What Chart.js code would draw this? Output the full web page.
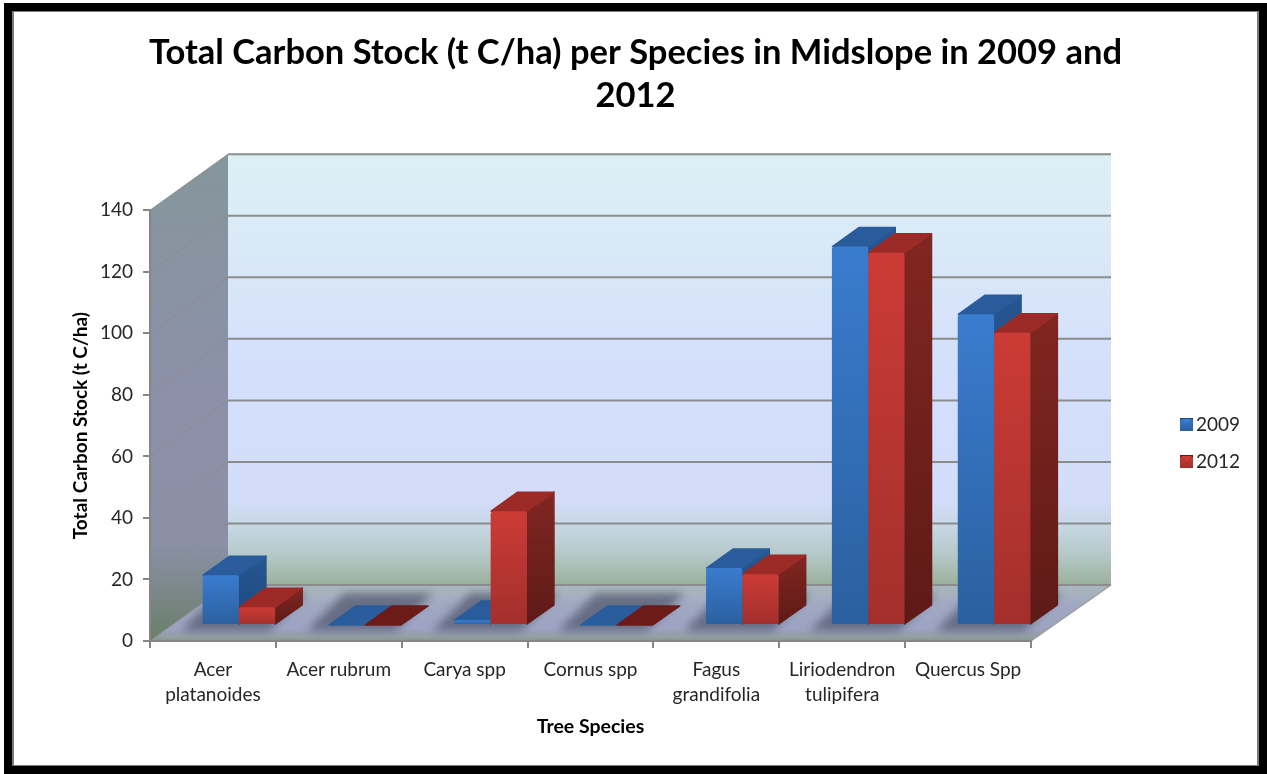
<!DOCTYPE html>
<html>
<head>
<meta charset="utf-8">
<title>Total Carbon Stock</title>
<script src="https://cdn.jsdelivr.net/npm/chart.js@4"></script>
<style>
    html, body { margin: 0; padding: 0; background: #fff; }
    canvas { display: block; }
</style>
</head>
<body>
<canvas id="carbonChart" width="1267" height="774"></canvas>
<script>
// Carbon stock per species
const categories = [
    ['Acer', 'platanoides'], 'Acer rubrum', 'Carya spp', 'Cornus spp',
    ['Fagus', 'grandifolia'], ['Liriodendron', 'tulipifera'], 'Quercus Spp'
];
const values2009 = [16.2, 0, 1.6, 0, 18.5, 123, 101];
const values2012 = [5.8, 0, 37, 0, 16.5, 121, 95];
const titleLines = ['Total Carbon Stock (t C/ha) per Species in Midslope in 2009 and', '2012'];

const FONT = 'Lato, "Open Sans", sans-serif';

// Depth of the box the chart sits in and of the bars inside it
const WALL_DX = 78, WALL_DY = 56;
const BAR_SHIFT_X = 26, BAR_SHIFT_Y = 16;
const BAR_DX = 27, BAR_DY = 19;

const blueFaces = { front: ['#3a7ccf', '#2b609f'], side: ['#265590', '#1f4a80'], top: '#2a5c9c', flat: '#2a5d9c' };
const redFaces = { front: ['#cc3b36', '#a32f2c'], side: ['#822621', '#5e1a17'], top: '#9c2b28', flat: '#6c1b18' };

function polygon(ctx, pts) {
    ctx.beginPath();
    pts.forEach((p, i) => i ? ctx.lineTo(p[0], p[1]) : ctx.moveTo(p[0], p[1]));
    ctx.closePath();
}

// Filled polygon whose corners come out slightly rounded
function softFace(ctx, pts, fill) {
    polygon(ctx, pts);
    ctx.fillStyle = fill;
    ctx.strokeStyle = fill;
    ctx.lineWidth = 1.5;
    ctx.lineJoin = 'round';
    ctx.fill();
    ctx.stroke();
}

function vGradient(ctx, y0, y1, stops) {
    const g = ctx.createLinearGradient(0, y0, 0, y1);
    stops.forEach(s => g.addColorStop(s[0], s[1]));
    return g;
}

function frontFill(faces) {
    return c => {
        const y = c.chart.scales.y;
        return vGradient(c.chart.ctx, y.getPixelForValue(c.raw), y.getPixelForValue(0), [[0, faces.front[0]], [1, faces.front[1]]]);
    };
}

// Small square for the legend, with the lighter wedge on its upper edge
function legendMarker(faces) {
    const cv = document.createElement('canvas');
    cv.width = 23;
    cv.height = 13;
    const c = cv.getContext('2d');
    c.fillStyle = vGradient(c, 0, 13, [[0, faces.front[0]], [1, faces.front[1]]]);
    c.fillRect(10, 0, 13, 13);
    c.fillStyle = faces.side[1];
    c.fillRect(10, 0, 13, 2);
    c.fillStyle = faces.front[0];
    polygon(c, [[11, 1], [22, 1], [16.5, 6]]);
    c.fill();
    return cv;
}

// White sheet with the heavy black frame
const framePlugin = {
    id: 'frame',
    beforeDraw(chart) {
        const ctx = chart.ctx;
        ctx.save();
        ctx.fillStyle = '#000';
        ctx.fillRect(4, 3, 1263, 771);
        ctx.fillStyle = '#7a7a7a';
        ctx.fillRect(12, 11, 1247, 755);
        ctx.fillStyle = '#fff';
        ctx.fillRect(14, 12, 1243, 753);
        ctx.restore();
    }
};

// Side wall, back wall and floor, all hung off the chart's own scales
const boxPlugin = {
    id: 'box3d',
    beforeDraw(chart) {
        const ctx = chart.ctx;
        const { left, right, top, bottom } = chart.chartArea;
        const yScale = chart.scales.y;
        const backL = left + WALL_DX, backR = right + WALL_DX + 2;
        const backT = top - WALL_DY, backB = bottom - WALL_DY;

        ctx.save();

        // back wall
        ctx.fillStyle = vGradient(ctx, backT, backB, [
            [0, '#dcf0f5'], [0.25, '#d9e8f8'], [0.5, '#d4dffb'], [0.8, '#d3ddfa'],
            [0.86, '#c8d7e6'], [0.93, '#b5c8c8'], [1, '#9ab09a']
        ]);
        ctx.fillRect(backL, backT, backR - backL, backB - backT);

        // side wall
        ctx.fillStyle = vGradient(ctx, backT, bottom, [
            [0, '#85969b'], [0.5, '#8c90a9'], [0.8, '#8b90a6'], [1, '#6a7f6b']
        ]);
        polygon(ctx, [[left, top], [backL, backT], [backL, backB], [left, bottom]]);
        ctx.fill();

        // floor
        const floor = [[left, bottom], [backL, backB], [backR, backB], [right, bottom]];
        ctx.fillStyle = vGradient(ctx, backB, bottom, [
            [0, '#aab7bf'], [0.14, '#a6b3bd'], [0.35, '#a0a8c2'], [0.78, '#9da3c2'], [0.86, '#969eb0'], [0.92, '#93a0a4'], [1, '#8a968e']
        ]);
        polygon(ctx, floor);
        ctx.fill();

        // soft shadow under every pair of bars, the shape itself stays off the canvas
        ctx.save();
        polygon(ctx, floor);
        ctx.clip();
        ctx.shadowColor = 'rgba(72, 78, 98, 0.65)';
        ctx.shadowBlur = 8;
        ctx.shadowOffsetX = 3000;
        ctx.fillStyle = '#000';
        const first = chart.getDatasetMeta(0).data, second = chart.getDatasetMeta(1).data;
        first.forEach((bar, i) => {
            const l = bar.x - bar.width / 2 + BAR_SHIFT_X - 22 - 3000;
            const r = second[i].x + second[i].width / 2 + BAR_SHIFT_X - 6 - 3000;
            const yFront = bottom - BAR_SHIFT_Y + 6, yBack = backB + 8;
            const dx = 38;
            polygon(ctx, [[l, yFront], [l + dx, yBack], [r + dx, yBack], [r, yFront]]);
            ctx.fill();
        });
        ctx.restore();

        // gridlines on both walls
        ctx.strokeStyle = '#8b8d8c';
        yScale.ticks.forEach(t => {
            const y = yScale.getPixelForValue(t.value);
            ctx.lineWidth = 1;
            ctx.beginPath();
            ctx.moveTo(left, y);
            ctx.lineTo(backL, y - WALL_DY);
            ctx.stroke();
            ctx.lineWidth = 2;
            ctx.beginPath();
            ctx.moveTo(backL, y - WALL_DY);
            ctx.lineTo(backR, y - WALL_DY);
            ctx.stroke();
        });

        // right edge of the floor
        ctx.lineWidth = 1.5;
        ctx.strokeStyle = '#9a9f9c';
        ctx.beginPath();
        ctx.moveTo(right, bottom);
        ctx.lineTo(backR, backB);
        ctx.stroke();

        ctx.restore();
    }
};

// Side and top faces go down first, left bar then right bar, so that the front
// faces Chart.js paints afterwards cover them properly. The fronts are moved back too.
const barDepthPlugin = {
    id: 'barDepth',
    beforeDatasetsDraw(chart) {
        const ctx = chart.ctx;
        ctx.save();
        ctx.translate(BAR_SHIFT_X, -BAR_SHIFT_Y);
        chart.data.datasets.forEach((ds, d) => {
            const faces = ds.faces;
            chart.getDatasetMeta(d).data.forEach(bar => {
                const l = bar.x - bar.width / 2, r = bar.x + bar.width / 2;
                const yTop = bar.y, yBase = bar.base;
                const hasHeight = yBase - yTop > 0.5;
                if (hasHeight) {
                    softFace(ctx, [[r, yTop], [r + BAR_DX, yTop - BAR_DY], [r + BAR_DX, yBase - BAR_DY], [r, yBase]],
                        vGradient(ctx, yTop - BAR_DY, yBase, [[0, faces.side[0]], [1, faces.side[1]]]));
                }
                softFace(ctx, [[l + 0.5, yTop], [l + BAR_DX, yTop - BAR_DY], [r + BAR_DX, yTop - BAR_DY], [r, yTop]],
                    hasHeight ? faces.top : faces.flat);
            });
        });
        ctx.restore();
    },
    beforeDatasetDraw(chart) {
        chart.ctx.save();
        chart.ctx.translate(BAR_SHIFT_X, -BAR_SHIFT_Y);
    },
    afterDatasetDraw(chart) {
        chart.ctx.restore();
    }
};

// Legend keeps the whole right margin but its entries sit further out
const legendPlacePlugin = {
    id: 'legendPlace',
    beforeLayout(chart) {
        const legend = chart.legend;
        if (!legend._fitWrapped) {
            const fit = legend.fit;
            legend.fit = function () {
                fit.call(this);
                this.width = 236;
            };
            legend._fitWrapped = true;
        }
    },
    afterLayout(chart) {
        const legend = chart.legend;
        legend.left = 1158.5;
        legend.top = 370;
        legend.bottom = 516;
    }
};

new Chart(document.getElementById('carbonChart'), {
    type: 'bar',
    plugins: [framePlugin, boxPlugin, barDepthPlugin, legendPlacePlugin],
    data: {
        labels: categories,
        datasets: [
            {
                label: '2009', data: values2009, faces: blueFaces,
                backgroundColor: frontFill(blueFaces), clip: false, borderRadius: 3
            },
            {
                label: '2012', data: values2012, faces: redFaces,
                backgroundColor: frontFill(redFaces), clip: false, borderRadius: 3
            }
        ]
    },
    options: {
        responsive: false,
        animation: false,
        categoryPercentage: 0.577,
        barPercentage: 1,
        layout: { autoPadding: false, padding: { left: 4, right: 0, top: 0, bottom: 0 } },
        plugins: {
            title: {
                display: true,
                text: titleLines,
                color: '#000',
                font: { family: FONT, size: 34.5, weight: 'bold', lineHeight: 1.25 },
                padding: { top: 31, bottom: 93 }
            },
            legend: {
                position: 'right',
                labels: {
                    usePointStyle: true,
                    boxWidth: 10,
                    padding: 18,
                    color: '#262626',
                    font: { family: FONT, size: 19 },
                    generateLabels(chart) {
                        return chart.data.datasets.map((ds, i) => ({
                            text: ds.label,
                            datasetIndex: i,
                            fontColor: '#262626',
                            pointStyle: legendMarker(ds.faces)
                        }));
                    }
                }
            },
            tooltip: { enabled: false }
        },
        scales: {
            x: {
                afterFit(scale) { scale.height = 133; },
                grid: { drawOnChartArea: false, offset: true, tickLength: 7, color: '#868686', lineWidth: 2 },
                border: { color: '#868686', width: 2 },
                ticks: {
                    color: '#262626', padding: 9, maxRotation: 0, autoSkip: false,
                    font: { family: FONT, size: 19, lineHeight: 1.32 }
                },
                title: {
                    display: true,
                    text: 'Tree Species',
                    color: '#000',
                    font: { family: FONT, size: 19.5, weight: 'bold', lineHeight: 1.2 },
                    padding: { top: 0, bottom: 36 }
                }
            },
            y: {
                min: 0,
                max: 140,
                afterFit(scale) { scale.width = 146; },
                grid: { drawOnChartArea: false, tickLength: 7, color: '#868686', lineWidth: 2 },
                border: { color: '#868686', width: 2 },
                ticks: {
                    stepSize: 20, color: '#262626', padding: 10,
                    font: { family: FONT, size: 19 }
                },
                title: {
                    display: true,
                    text: 'Total Carbon Stock (t C/ha)',
                    color: '#000',
                    font: { family: FONT, size: 19, weight: 'bold', lineHeight: 1.2 },
                    padding: { top: 65, bottom: 0 }
                }
            }
        }
    }
});
</script>
</body>
</html>
